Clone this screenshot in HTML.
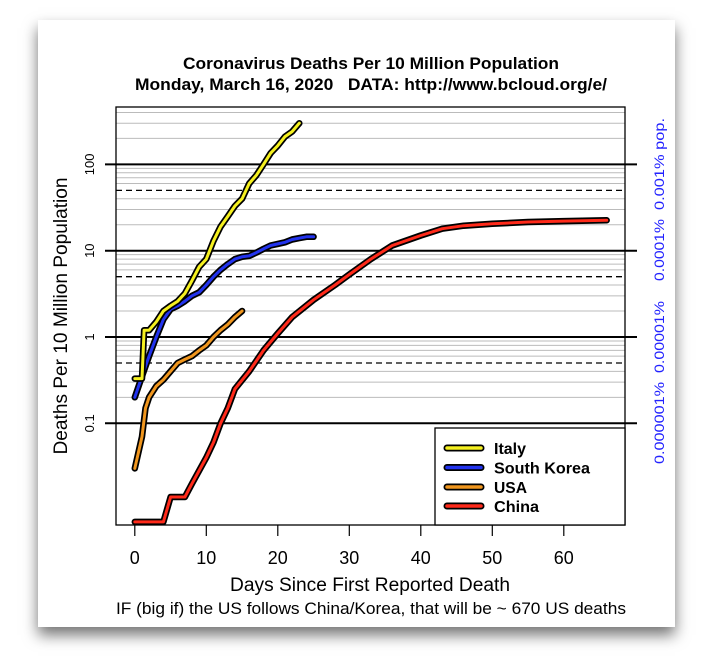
<!DOCTYPE html>
<html><head><meta charset="utf-8"><style>
html,body{margin:0;padding:0;background:#fff;width:713px;height:671px;overflow:hidden}
.card{position:absolute;left:38px;top:20px;width:637px;height:607px;background:#fff;box-shadow:0 8px 14px rgba(0,0,0,0.55)}
svg{position:absolute;left:0;top:0}
text{font-family:"Liberation Sans",Arial,sans-serif}
</style></head><body>
<div class="card"></div>
<svg id="s" width="713" height="671" xmlns="http://www.w3.org/2000/svg"></svg>
<script>
const s=document.getElementById('s');
const L=116,R=625,T=107,B=525;
const px=x=>134.8+7.15*x, py=v=>337-86.3*Math.log10(v);
let h='';
for(let k=-1;k<=2;k++)for(let m=2;m<=9;m++){const v=m*Math.pow(10,k);const y=py(v);if(y<T||y>B)continue;
 if(m==5)h+=`<line x1="${L}" x2="${R}" y1="${y}" y2="${y}" stroke="#000" stroke-width="1.3" stroke-dasharray="6,4"/>`;
 else h+=`<line x1="${L}" x2="${R}" y1="${y}" y2="${y}" stroke="#bbb" stroke-width="1"/>`;}
[100,10,1,0.1].forEach(v=>{const y=py(v);h+=`<line x1="105" x2="637" y1="${y}" y2="${y}" stroke="#000" stroke-width="2"/>`;});
h+=`<rect x="${L}" y="${T}" width="${R-L}" height="${B-T}" fill="none" stroke="#000" stroke-width="1.3"/>`;
for(let d=0;d<=60;d+=10){const x=px(d);const w=d==0?10:20;h+=`<line x1="${x}" x2="${x}" y1="${B}" y2="${B+11}" stroke="#000" stroke-width="1.2"/><text x="${x}" y="564" font-size="18" text-anchor="middle" textLength="${w}" lengthAdjust="spacingAndGlyphs">${d}</text>`;}
[['100',100],['10',10],['1',1],['0.1',0.1]].forEach(([t,v])=>{const y=py(v);h+=`<text transform="translate(94,${y}) rotate(-90)" font-size="13" text-anchor="middle">${t}</text>`;});
[['0.001% pop.',164,92],['0.0001%',250,62],['0.00001%',337,72],['0.000001%',423,82]].forEach(([t,y,w])=>{h+=`<text transform="translate(664,${y}) rotate(-90)" font-size="14" fill="#2222ff" text-anchor="middle" textLength="${w}" lengthAdjust="spacingAndGlyphs">${t}</text>`;});
h+=`<text transform="translate(67,316) rotate(-90)" font-size="19" text-anchor="middle" textLength="277" lengthAdjust="spacingAndGlyphs">Deaths Per 10 Million Population</text>`;
h+=`<text x="371" y="69" font-size="17" font-weight="bold" text-anchor="middle" textLength="376" lengthAdjust="spacingAndGlyphs">Coronavirus Deaths Per 10 Million Population</text>`;
h+=`<text x="371" y="90" font-size="17" font-weight="bold" text-anchor="middle" textLength="472" lengthAdjust="spacingAndGlyphs" xml:space="preserve">Monday, March 16, 2020   DATA: http://www.bcloud.org/e/</text>`;
h+=`<text x="370" y="591" font-size="19" text-anchor="middle" textLength="280" lengthAdjust="spacingAndGlyphs">Days Since First Reported Death</text>`;
h+=`<text x="371" y="614" font-size="17" text-anchor="middle" textLength="510" lengthAdjust="spacingAndGlyphs">IF (big if) the US follows China/Korea, that will be ~ 670 US deaths</text>`;
const S={
china:['#ff2a1a',[[0,.0072],[4,.0072],[5,.014],[7,.014],[8,.02],[10,.04],[11,.06],[12,.1],[13,.15],[14,.25],[16,.4],[18,.7],[20,1.1],[22,1.7],[25,2.7],[28,4],[30,5.3],[33,8],[36,11.5],[40,15],[43,18],[46,19.5],[50,20.5],[55,21.5],[60,22],[66,22.5]]],
usa:['#f0961e',[[0,.03],[1,.07],[1.5,.15],[2,.2],[3,.27],[4,.32],[5,.4],[6,.5],[7,.55],[8,.6],[9,.7],[10,.8],[11,1],[12,1.2],[13,1.4],[14,1.7],[15,2]]],
kor:['#2233ee',[[0,.2],[1,.35],[2,.6],[3,1],[4,1.6],[5,2.1],[6,2.3],[7,2.6],[8,3],[9,3.3],[10,4],[11,5],[12,6],[13,7],[14,8],[15,8.5],[16,8.7],[17,9.5],[18,10.5],[19,11.5],[20,12],[21,12.5],[22,13.5],[23,14],[24,14.5],[25,14.5]]],
italy:['#f5f020',[[0,.33],[1,.33],[1.3,1.2],[2,1.2],[3,1.5],[4,2],[5,2.3],[6,2.6],[7,3.2],[8,4.5],[9,6.5],[10,8],[11,13],[12,19],[13,25],[14,33],[15,40],[16,60],[17,75],[18,100],[19,135],[20,165],[21,210],[22,240],[23,300]]]};
['china','usa','kor','italy'].forEach(k=>{const [c,d]=S[k];const p=d.map(q=>px(q[0]).toFixed(1)+','+py(q[1]).toFixed(1)).join(' ');
 h+=`<polyline points="${p}" fill="none" stroke="#000" stroke-width="6.5" stroke-linejoin="round" stroke-linecap="round"/><polyline points="${p}" fill="none" stroke="${c}" stroke-width="3" stroke-linejoin="round" stroke-linecap="round"/>`;});
h+=`<rect x="435" y="428" width="190" height="97" fill="#fff" stroke="#000" stroke-width="1.3"/>`;
[['Italy','#f5f020',448,32],['South Korea','#2233ee',467.5,96],['USA','#f0961e',487,33],['China','#ff2a1a',506,45]].forEach(([t,c,y,w])=>{
 h+=`<line x1="447" x2="481" y1="${y}" y2="${y}" stroke="#000" stroke-width="7" stroke-linecap="round"/><line x1="447" x2="481" y1="${y}" y2="${y}" stroke="${c}" stroke-width="3.5" stroke-linecap="round"/><text x="494" y="${y+6}" font-size="16" font-weight="bold" textLength="${w}" lengthAdjust="spacingAndGlyphs">${t}</text>`;});
s.innerHTML=h;
</script>
</body></html>
